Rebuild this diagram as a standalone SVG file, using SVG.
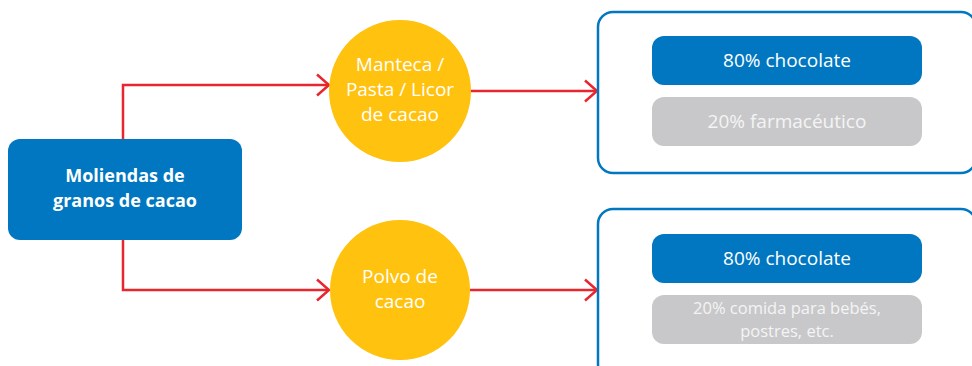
<svg xmlns="http://www.w3.org/2000/svg" width="972" height="366" viewBox="0 0 972 366">
<style>
.t{font-family:"Open Sans","Noto Sans","Liberation Sans",sans-serif;fill:#fff;text-anchor:middle;font-size:19px}
.b{font-weight:bold;font-size:18px}
.s{font-size:16.5px}
.g{fill:#F4F4F4}
.con{fill:none;stroke:#E8262D;stroke-width:2.5}
.blue{fill:#0077C0}
.gray{fill:#C8C8CA}
.circ{fill:#FFC20E}
.frame{fill:#fff;stroke:#0077C0;stroke-width:2.5}
</style>
<defs>
<marker id="arr" viewBox="0 0 14 24" refX="13" refY="12" markerWidth="14" markerHeight="24" markerUnits="userSpaceOnUse" orient="auto">
<path d="M1,1.5 L13,12 L1,22.5" fill="none" stroke="#E8262D" stroke-width="2.5"/>
</marker>
</defs>
<rect width="972" height="366" fill="#fff"/>
<g id="connectors">
<path class="con" d="M123,139 V85 H329" marker-end="url(#arr)"/>
<path class="con" d="M123,240 V290 H329" marker-end="url(#arr)"/>
<path class="con" d="M470,91 H597" marker-end="url(#arr)"/>
<path class="con" d="M470,290 H597" marker-end="url(#arr)"/>
</g>
<g id="molienda">
<rect class="blue" x="8" y="139" width="234" height="101" rx="12"/>
<text class="t b" x="125" y="182">Moliendas de</text>
<text class="t b" x="125" y="207">granos de cacao</text>
</g>
<g id="manteca">
<circle class="circ" cx="400" cy="91" r="71"/>
<text class="t" x="400" y="71">Manteca /</text>
<text class="t" x="400" y="96">Pasta / Licor</text>
<text class="t" x="400" y="121">de cacao</text>
</g>
<g id="polvo">
<circle class="circ" cx="400" cy="290" r="70"/>
<text class="t" x="400" y="283">Polvo de</text>
<text class="t" x="400" y="308">cacao</text>
</g>
<g id="destino1">
<rect class="frame" x="598" y="12" width="378" height="161" rx="15"/>
<rect class="blue" x="652" y="36" width="270" height="49" rx="12"/>
<text class="t" x="787" y="67">80% chocolate</text>
<rect class="gray" x="652" y="97" width="270" height="49" rx="12"/>
<text class="t g" x="787" y="128">20% farmacéutico</text>
</g>
<g id="destino2">
<rect class="frame" x="598" y="209" width="378" height="170" rx="15"/>
<rect class="blue" x="652" y="234" width="270" height="49" rx="12"/>
<text class="t" x="787" y="265">80% chocolate</text>
<rect class="gray" x="652" y="295" width="270" height="49" rx="12"/>
<text class="t s g" x="787" y="314">20% comida para bebés,</text>
<text class="t s g" x="787" y="337">postres, etc.</text>
</g>
</svg>
